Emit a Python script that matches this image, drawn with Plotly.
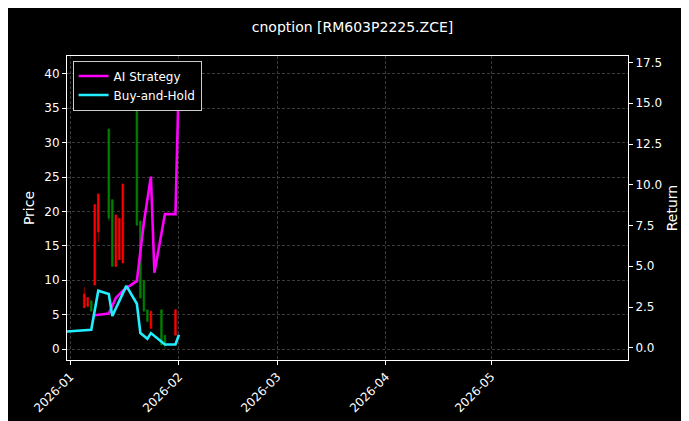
import plotly.graph_objects as go

candle_dates = ["2026-01-05","2026-01-06","2026-01-07","2026-01-08","2026-01-09","2026-01-12","2026-01-13",
                "2026-01-14","2026-01-15","2026-01-16","2026-01-20","2026-01-21","2026-01-22","2026-01-23",
                "2026-01-24","2026-01-27","2026-01-28","2026-01-31"]
opens  = [8.0, 7.5, 5.5, 21.0, 22.5, 19.0, 12.0, 19.5, 19.0, 24.0, 18.0, 7.4, 5.5, 4.0, 5.5, 0.6, 0.5, 5.7]
highs  = [9.0, 7.5, 7.0, 21.0, 22.7, 32.0, 21.7, 19.5, 19.0, 24.0, 36.0, 18.6, 10.0, 5.7, 5.5, 5.7, 2.0, 5.7]
lows   = [6.0, 6.0, 5.5, 9.3, 15.5, 18.6, 12.0, 12.0, 13.0, 12.5, 18.0, 7.4, 5.5, 4.0, 3.0, 0.6, 0.0, 2.0]
closes = [6.0, 6.2, 7.0, 9.3, 17.0, 32.0, 21.7, 12.0, 13.0, 12.5, 36.0, 18.6, 10.0, 5.7, 3.0, 5.7, 2.0, 2.0]

ai_dates = ["2026-01-08","2026-01-12","2026-01-14","2026-01-16","2026-01-20","2026-01-22","2026-01-24",
            "2026-01-25","2026-01-28","2026-01-31","2026-02-01"]
ai_ret = [2.0, 2.1, 3.05, 3.5, 4.1, 7.7, 10.5, 4.6, 8.2, 8.2, 16.9]

bh_dates = ["2025-12-31","2026-01-07","2026-01-09","2026-01-12","2026-01-13","2026-01-16","2026-01-17",
            "2026-01-20","2026-01-21","2026-01-23","2026-01-24","2026-01-28","2026-01-31","2026-02-01"]
bh_ret = [1.0, 1.1, 3.5, 3.3, 1.95, 3.35, 3.8, 2.7, 0.9, 0.55, 0.9, 0.2, 0.2, 0.8]

fig = go.Figure()
fig.add_trace(go.Candlestick(x=candle_dates, open=opens, high=highs, low=lows, close=closes,
    increasing=dict(line=dict(color="green", width=0.6), fillcolor="green"),
    decreasing=dict(line=dict(color="red", width=0.6), fillcolor="red"),
    whiskerwidth=0, showlegend=False, yaxis="y"))
fig.add_trace(go.Scatter(x=ai_dates, y=ai_ret, mode="lines", name="AI Strategy",
    line=dict(color="#ff00ff", width=2.6), yaxis="y2"))
fig.add_trace(go.Scatter(x=bh_dates, y=bh_ret, mode="lines", name="Buy-and-Hold",
    line=dict(color="#22eeff", width=2.6), yaxis="y2"))

grid = dict(showgrid=True, gridcolor="#3a3a3a", griddash="3px,2px", gridwidth=0.6)
fig.update_layout(
    width=689, height=421, paper_bgcolor="black", plot_bgcolor="black",
    font=dict(family="DejaVu Sans", color="white", size=12),
    margin=dict(l=59, r=69, t=48, b=69, autoexpand=False),
    title=dict(text="cnoption [RM603P2225.ZCE]", x=0.5, xanchor="center", y=0.955, yanchor="middle",
               font=dict(size=14)),
    xaxis=dict(type="date", range=["2025-12-31 02:00", "2026-06-09"], rangeslider=dict(visible=False),
               tickvals=["2026-01-01","2026-02-01","2026-03-01","2026-04-01","2026-05-01"],
               ticktext=["2026-01","2026-02","2026-03","2026-04","2026-05"], tickangle=-45,
               ticks="outside", ticklen=4, tickcolor="white", showline=True, linecolor="white",
               mirror=True, zeroline=False, automargin=False, **grid),
    yaxis=dict(title=dict(text="Price", standoff=6), range=[-1.6, 42.6], tickvals=[0,5,10,15,20,25,30,35,40],
               ticks="outside", ticklen=4, tickcolor="white", showline=True, linecolor="white",
               zeroline=False, automargin=False, **grid),
    yaxis2=dict(title=dict(text="Return", standoff=6), overlaying="y", side="right", range=[-0.75, 17.9],
                tickvals=[0,2.5,5,7.5,10,12.5,15,17.5],
                ticktext=["0.0","2.5","5.0","7.5","10.0","12.5","15.0","17.5"],
                ticks="outside", ticklen=4, tickcolor="white", showline=True, linecolor="white",
                showgrid=False, zeroline=False, automargin=False),
    legend=dict(x=0.01, y=0.985, xanchor="left", yanchor="top", bgcolor="black",
                bordercolor="#cccccc", borderwidth=1, font=dict(size=12)),
)
fig.write_html("out.html")
